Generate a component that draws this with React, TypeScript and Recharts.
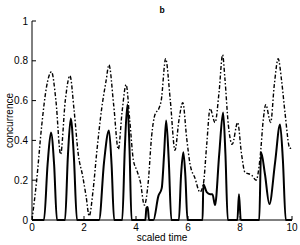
import { LineChart, Line, XAxis, YAxis } from 'recharts'

// scaled time / concurrence
const dashedT = [
  0, 0.18, 0.37, 0.56, 0.75, 0.92, 1.1, 1.28, 1.46, 1.62, 1.78, 1.95, 2.08, 2.2, 2.35, 2.49,
  2.68, 2.85, 2.96, 3.14, 3.32, 3.47, 3.62, 3.76, 3.9, 4.03, 4.17, 4.32, 4.47, 4.6, 4.73,
  4.88, 4.97, 5.14, 5.32, 5.5, 5.65, 5.8, 5.95, 6.08, 6.27, 6.46, 6.59, 6.72, 6.85, 7.04,
  7.2, 7.33, 7.42, 7.55, 7.7, 7.91, 8.06, 8.19, 8.45, 8.62, 8.77, 8.9, 8.99, 9.18, 9.32,
  9.47, 9.6, 9.73, 9.92, 10,
]
const dashedC = [
  0, 0.2, 0.47, 0.67, 0.745, 0.6, 0.33, 0.6, 0.725, 0.55, 0.33, 0.22, 0.12, 0.02, 0.15, 0.34,
  0.56, 0.7, 0.78, 0.58, 0.355, 0.55, 0.68, 0.5, 0.3, 0.25, 0.19, 0.075, 0.19, 0.42, 0.53,
  0.56, 0.6, 0.81, 0.6, 0.35, 0.5, 0.59, 0.41, 0.28, 0.21, 0.14, 0.18, 0.38, 0.56, 0.49,
  0.65, 0.83, 0.71, 0.48, 0.38, 0.49, 0.33, 0.24, 0.225, 0.2, 0.31, 0.51, 0.58, 0.49, 0.68,
  0.81, 0.7, 0.54, 0.36, 0.37,
]

const solidT = [
  0, 0.46, 0.6, 0.73, 0.85, 0.96, 1.27, 1.38, 1.49, 1.61, 1.73, 2.58, 2.77, 2.96, 3.06, 3.16,
  3.47, 3.57, 3.67, 3.75, 3.83, 4.36, 4.4, 4.45, 4.5, 4.67, 4.86, 4.99, 5.08, 5.16, 5.26,
  5.36, 5.65, 5.73, 5.82, 5.9, 5.98, 6.56, 6.59, 6.72, 6.85, 6.94, 7.04, 7.2, 7.35, 7.44,
  7.53, 7.9, 7.96, 8.03, 8.74, 8.81, 8.96, 9.13, 9.35, 9.54, 9.65, 9.76, 10,
]
const solidC = [
  0, 0, 0.28, 0.44, 0.28, 0, 0, 0.32, 0.51, 0.32, 0, 0, 0.29, 0.45, 0.28, 0,
  0, 0.36, 0.58, 0.36, 0, 0, 0.06, 0.065, 0, 0, 0.12, 0.16, 0.33, 0.5, 0.3,
  0, 0, 0.22, 0.34, 0.22, 0, 0, 0.18, 0.14, 0.13, 0.13, 0.075, 0.33, 0.54, 0.33,
  0, 0, 0.13, 0, 0, 0.34, 0.23, 0.08, 0.29, 0.48, 0.3, 0, 0,
]

const xTicks = [0, 2, 4, 6, 8, 10]
const yTicks = [0, 0.2, 0.4, 0.6, 0.8, 1]

const dashedData = dashedT.map((t, i) => ({ t, c: dashedC[i] }))
const solidData = solidT.map((t, i) => ({ t, c: solidC[i] }))

const font = '"Liberation Sans", Arial, sans-serif'
const tickStyle = { fontSize: 10, fill: '#000', fontFamily: font }

export default function App() {
  return (
    <div style={{ position: 'absolute', left: 0, top: 0, width: 300, height: 245 }}>
      {/* panel title */}
      <svg width={300} height={20} style={{ position: 'absolute', left: 0, top: 0 }}>
        <text x={162} y={12.7} textAnchor="middle" fontSize={8.5} fontWeight="bold" fontFamily={font} fill="#000">
          b
        </text>
      </svg>
      <LineChart
        width={300}
        height={245}
        margin={{ top: 21, right: 8, left: 0, bottom: 0 }}
        style={{ fontFamily: font }}
      >
        <XAxis
          xAxisId="bottom"
          type="number"
          dataKey="t"
          domain={[0, 10]}
          ticks={xTicks}
          height={25}
          tickSize={-4}
          tickMargin={8}
          tick={tickStyle}
          stroke="#000"
          allowDataOverflow
          label={{ value: 'scaled time', position: 'insideBottom', offset: 4, fontSize: 10, fill: '#000', fontFamily: font }}
        />
        <XAxis
          xAxisId="top"
          orientation="top"
          type="number"
          dataKey="t"
          domain={[0, 10]}
          ticks={xTicks}
          height={0}
          tickSize={-4}
          tick={false}
          stroke="#000"
        />
        <YAxis
          yAxisId="left"
          type="number"
          domain={[0, 1]}
          ticks={yTicks}
          width={32}
          tickSize={-4}
          tickMargin={8}
          tick={tickStyle}
          stroke="#000"
          label={{ value: 'concurrence', angle: -90, position: 'center', dx: -7, fontSize: 10, fill: '#000', fontFamily: font }}
        />
        <YAxis
          yAxisId="right"
          orientation="right"
          type="number"
          domain={[0, 1]}
          ticks={yTicks}
          width={0}
          tickSize={-4}
          tick={false}
          stroke="#000"
        />
        <Line
          xAxisId="bottom"
          yAxisId="left"
          data={dashedData}
          dataKey="c"
          type="monotone"
          stroke="#000"
          strokeWidth={1.4}
          strokeDasharray="4 2 1.5 2"
          dot={false}
          isAnimationActive={false}
        />
        <Line
          xAxisId="bottom"
          yAxisId="left"
          data={solidData}
          dataKey="c"
          type="monotone"
          stroke="#000"
          strokeWidth={2}
          dot={false}
          isAnimationActive={false}
        />
      </LineChart>
    </div>
  )
}
